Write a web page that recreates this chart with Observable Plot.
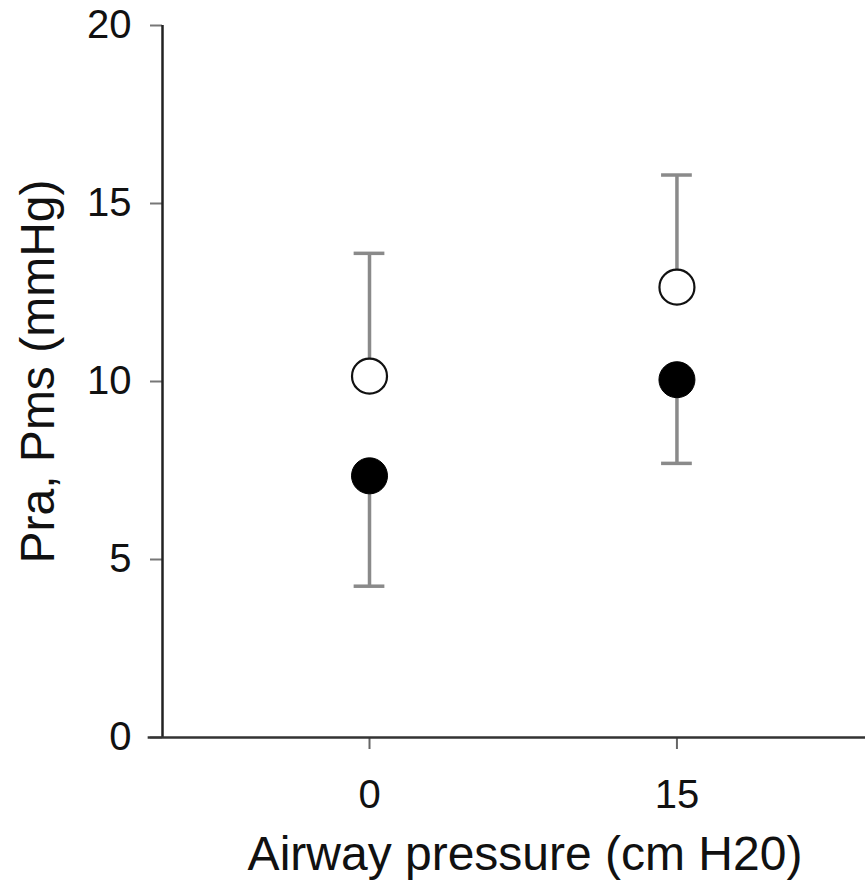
<!DOCTYPE html>
<html>
<head>
<meta charset="utf-8">
<script src="https://cdn.jsdelivr.net/npm/d3@7"></script>
<script src="https://cdn.jsdelivr.net/npm/@observablehq/plot@0.6"></script>
<style>
  body { margin: 0; background: #fff; }
</style>
</head>
<body>
<div id="chart"></div>
<script>
// Airway pressure levels (cm H2O)
const airway = [0, 15];
// Open circles: mean with upward SD bar
const pmsMean = [10.15, 12.65];
const pmsSD = [3.45, 3.15];
// Filled circles: mean with downward SD bar
const praMean = [7.35, 10.05];
const praSD = [3.1, 2.35];

const yTicks = [0, 5, 10, 15, 20];
const xTicks = [0, 15];

const pms = airway.map((x, i) => ({x, mean: pmsMean[i], end: pmsMean[i] + pmsSD[i]}));
const pra = airway.map((x, i) => ({x, mean: praMean[i], end: praMean[i] - praSD[i]}));

const capHalf = 0.75; // half-width of error bar caps, in x units
const barColor = "#8a8a8a";

const chart = Plot.plot({
  width: 865,
  height: 888,
  marginLeft: 162,
  marginRight: 0,
  marginTop: 25,
  marginBottom: 151,
  style: {fontFamily: "'Liberation Sans', Arial, sans-serif", background: "white", color: "#111"},
  x: {domain: [-10.1, 24.2]},
  y: {domain: [0, 20]},
  marks: [
    Plot.axisY({ticks: yTicks, tickSize: 12, tickPadding: 19, fontSize: 40, stroke: "#777", strokeWidth: 2, label: null}),
    Plot.axisX({ticks: xTicks, tickSize: 12, tickPadding: 30, fontSize: 40, stroke: "#666", strokeWidth: 2, label: null}),
    Plot.ruleX([-10.1], {y1: 0, y2: 20, stroke: "#222", strokeWidth: 2.5}),
    Plot.ruleY([0], {x1: -10.8, x2: 24.2, stroke: "#333", strokeWidth: 2.5, clip: false}),
    // error bars
    Plot.ruleX(pms, {x: "x", y1: "mean", y2: "end", stroke: barColor, strokeWidth: 3.5}),
    Plot.ruleX(pra, {x: "x", y1: "mean", y2: "end", stroke: barColor, strokeWidth: 3.5}),
    Plot.ruleY(pms, {y: "end", x1: d => d.x - capHalf, x2: d => d.x + capHalf, stroke: barColor, strokeWidth: 3.5}),
    Plot.ruleY(pra, {y: "end", x1: d => d.x - capHalf, x2: d => d.x + capHalf, stroke: barColor, strokeWidth: 3.5}),
    // means
    Plot.dot(pms, {x: "x", y: "mean", r: 17.5, fill: "white", stroke: "#111", strokeWidth: 2.2}),
    Plot.dot(pra, {x: "x", y: "mean", r: 18, fill: "#000", stroke: "#000", strokeWidth: 1}),
    // axis titles
    Plot.text(["Airway pressure (cm H20)"], {frameAnchor: "bottom", dy: 117, dx: 11, lineAnchor: "middle", fontSize: 48, fill: "#111"}),
    Plot.text(["Pra, Pms (mmHg)"], {frameAnchor: "left", textAnchor: "middle", dx: -124, dy: -10, rotate: -90, lineAnchor: "middle", fontSize: 48, fill: "#111"})
  ]
});

document.getElementById("chart").appendChild(chart);
</script>
</body>
</html>
